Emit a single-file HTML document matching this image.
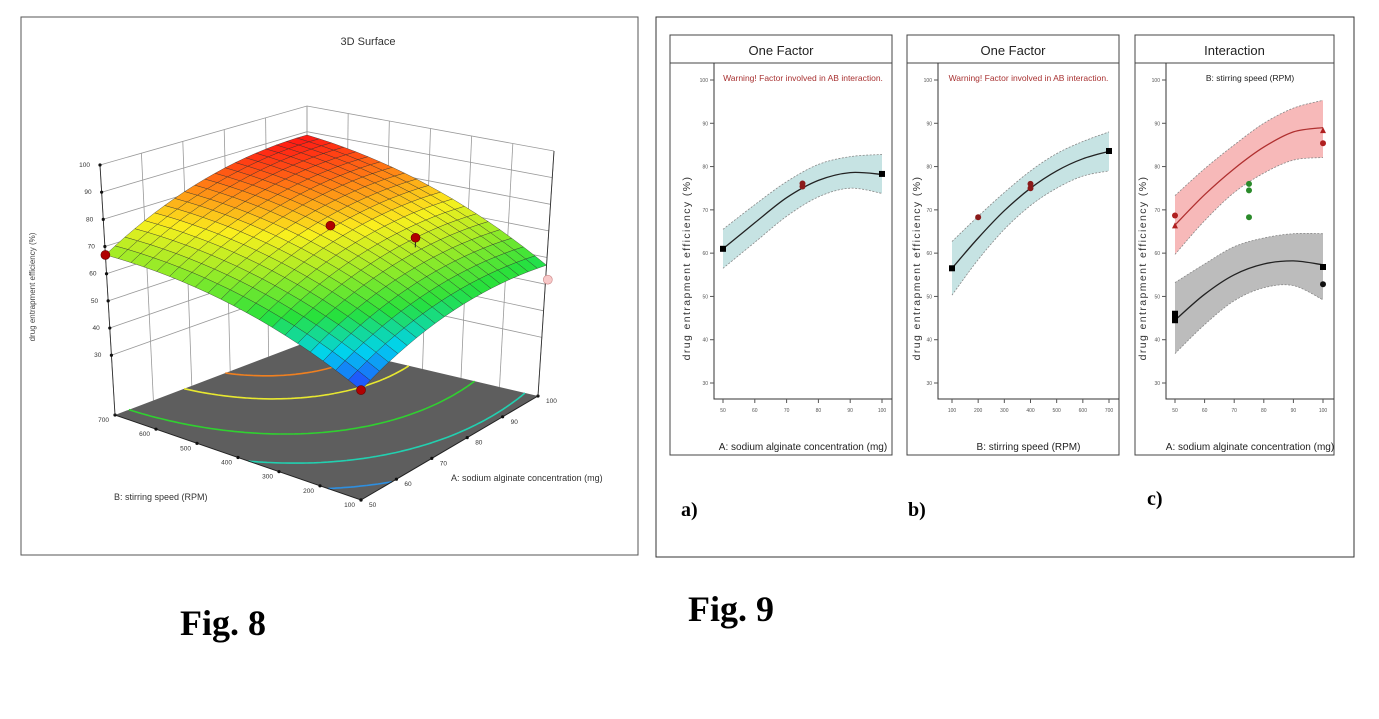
<!DOCTYPE html>
<html><head><meta charset="utf-8"><style>
html,body{margin:0;padding:0;background:#fff;}
svg{display:block;font-family:"Liberation Sans",sans-serif;}
</style></head><body>
<svg id="root" width="1379" height="719" viewBox="0 0 1379 719" xmlns="http://www.w3.org/2000/svg">
<rect x="21" y="17" width="617" height="538" fill="#fff" stroke="#555" stroke-width="1"/>
<text x="368" y="45" font-size="11" text-anchor="middle" fill="#333">3D Surface</text>
<text transform="translate(35,287) rotate(-90)" font-size="8" text-anchor="middle" fill="#444">drug entrapment efficiency (%)</text>
<text x="451" y="481" font-size="9" fill="#333">A: sodium alginate concentration (mg)</text>
<text x="114" y="500" font-size="9" fill="#333">B: stirring speed (RPM)</text>
<g id="g3d"></g>
<rect x="656" y="17" width="698" height="540" fill="#fff" stroke="#333" stroke-width="1"/>
<g id="g2d"></g>
<text x="681" y="516" font-size="20" font-weight="bold" font-family="Liberation Serif,serif">a)</text>
<text x="908" y="516" font-size="20" font-weight="bold" font-family="Liberation Serif,serif">b)</text>
<text x="1147" y="505" font-size="20" font-weight="bold" font-family="Liberation Serif,serif">c)</text>
<text x="180" y="635" font-size="36" font-weight="bold" font-family="Liberation Serif,serif">Fig. 8</text>
<text x="688" y="621" font-size="36" font-weight="bold" font-family="Liberation Serif,serif">Fig. 9</text>
</svg>
<script>
// ---------- 3D surface data ----------
const modelCoef = [75.3, 8.6, 13.5, 2.3, -5.7, -5.3]; // c0, A, B, AB, A^2, B^2 (coded)
const aTicks = [50, 60, 70, 80, 90, 100];
const bTicks = [100, 200, 300, 400, 500, 600, 700];
const zTicks = [30, 40, 50, 60, 70, 80, 90, 100];
const contourLevels = [50, 60, 70, 80, 85];
const contourColors = ['#2e8fe0', '#22d0b0', '#30d030', '#e8e830', '#f08020'];
const designA = [50, 75, 50, 82, 100];
const designB = [700, 400, 100, 260, 100];
const designZ = [66.9, 76.5, 44.5, 73, 52.8];

// ---------- 2D panel data ----------
const aX = [50, 60, 70, 80, 90, 100];
const aY = [61, 67, 72.8, 76.8, 78.6, 78.2];
const aLo = [56.5, 62.5, 68.5, 73, 75, 73.8];
const aHi = [65.5, 71.2, 76.5, 80.5, 82.3, 82.8];
const aPtsX = [50, 75, 75, 100];
const aPtsY = [61, 75.4, 76.1, 78.3];
const bX = [100, 200, 300, 400, 500, 600, 700];
const bY = [56.5, 63.5, 69.8, 75, 79, 81.8, 83.5];
const bLo = [50.3, 58.5, 65.5, 71, 75, 77.8, 79];
const bHi = [62.7, 68.5, 74, 79, 83, 85.8, 88];
const bPtsX = [100, 200, 400, 400, 700];
const bPtsY = [56.5, 68.3, 75, 76, 83.6];
const cX = [50, 60, 70, 80, 90, 100];
const cRedY = [66.5, 73.5, 79.5, 84.5, 88, 89];
const cRedLo = [59.7, 67.5, 74, 78.5, 81.5, 82.1];
const cRedHi = [73.3, 79.5, 85, 90, 93.5, 95.3];
const cBlkY = [44.5, 50.5, 55, 57.5, 58.2, 57.3];
const cBlkLo = [36.8, 43.5, 49, 52, 52.5, 49.2];
const cBlkHi = [53.2, 57.5, 61.5, 63.5, 64.5, 64.5];
const cBlkPtsX = [50, 50, 50, 100, 100];
const cBlkPtsY = [44.5, 45.3, 46, 56.8, 52.8];
const cRedPtsX = [50, 50, 100, 100];
const cRedPtsY = [68.7, 66.3, 85.4, 88.3];
const cGrnPtsX = [75, 75, 75];
const cGrnPtsY = [74.5, 76, 68.3];
const yTicks2d = [30, 40, 50, 60, 70, 80, 90, 100];

const NS = 'http://www.w3.org/2000/svg';
function mk(parent, tag, attrs) {
  const e = document.createElementNS(NS, tag);
  for (const k in attrs) e.setAttribute(k, attrs[k]);
  parent.appendChild(e);
  return e;
}

// ---------- 3D projection ----------
const zf = 8;
const F = [361, 500], R = [538, 396], L = [115, 415], Bk = [307, 342];
const Ft = [361, 223], Rt = [554, 151], Lt = [100, 165], Bkt = [307, 106];
function bil(p0, p1, p2, p3, u, v) {
  return [p0[0] * (1 - u) * (1 - v) + p1[0] * u * (1 - v) + p2[0] * (1 - u) * v + p3[0] * u * v,
          p0[1] * (1 - u) * (1 - v) + p1[1] * u * (1 - v) + p2[1] * (1 - u) * v + p3[1] * u * v];
}
function proj(a, b, z) {
  const u = (a - 50) / 50, v = (b - 100) / 600, w = (z - zf) / (100 - zf);
  const p = bil(F, R, L, Bk, u, v), q = bil(Ft, Rt, Lt, Bkt, u, v);
  return [p[0] + (q[0] - p[0]) * w, p[1] + (q[1] - p[1]) * w];
}
function model(a, b) {
  const x = (a - 75) / 25, y = (b - 400) / 300, c = modelCoef;
  return c[0] + c[1] * x + c[2] * y + c[3] * x * y + c[4] * x * x + c[5] * y * y;
}
function cmap(t) {
  const st = [[0, [40, 50, 255]], [0.17, [0, 210, 240]], [0.33, [40, 225, 60]], [0.5, [150, 235, 40]], [0.68, [250, 240, 30]], [0.85, [255, 130, 20]], [1, [255, 20, 20]]];
  t = Math.max(0, Math.min(1, t));
  for (let i = 0; i < st.length - 1; i++) {
    if (t <= st[i + 1][0]) {
      const f = (t - st[i][0]) / (st[i + 1][0] - st[i][0]);
      const c = st[i][1].map((v, k) => Math.round(v + (st[i + 1][1][k] - v) * f));
      return 'rgb(' + c.join(',') + ')';
    }
  }
}
const g3 = document.getElementById('g3d');
const P = (p) => p[0].toFixed(1) + ',' + p[1].toFixed(1);

// back walls
const wallB = mk(g3, 'g', {stroke: '#999', 'stroke-width': 0.8, fill: 'none'});


aTicks.forEach(a => { mk(wallB, 'line', {x1: proj(a, 700, zf)[0], y1: proj(a, 700, zf)[1], x2: proj(a, 700, 100)[0], y2: proj(a, 700, 100)[1]}); });
bTicks.forEach(b => { mk(wallB, 'line', {x1: proj(100, b, zf)[0], y1: proj(100, b, zf)[1], x2: proj(100, b, 100)[0], y2: proj(100, b, 100)[1]}); });
zTicks.forEach(z => {
  mk(wallB, 'polyline', {points: P(proj(50, 700, z)) + ' ' + P(proj(100, 700, z)) + ' ' + P(proj(100, 100, z))});
});
// floor
const floor = mk(g3, 'polygon', {points: [proj(50, 100, zf), proj(100, 100, zf), proj(100, 700, zf), proj(50, 700, zf)].map(P).join(' '), fill: '#5e5e5e'});


// contours
const M = 60;
contourLevels.forEach((lev, li) => {
  let d = '';
  for (let i = 0; i < M; i++) for (let j = 0; j < M; j++) {
    const a0 = 50 + 50 * i / M, a1 = 50 + 50 * (i + 1) / M, b0 = 100 + 600 * j / M, b1 = 100 + 600 * (j + 1) / M;
    const c = [[a0, b0], [a1, b0], [a1, b1], [a0, b1]];
    const vals = c.map(p => model(p[0], p[1]) - lev);
    const pts = [];
    for (let k = 0; k < 4; k++) {
      const k2 = (k + 1) % 4;
      if ((vals[k] < 0) !== (vals[k2] < 0)) {
        const t = vals[k] / (vals[k] - vals[k2]);
        pts.push([c[k][0] + (c[k2][0] - c[k][0]) * t, c[k][1] + (c[k2][1] - c[k][1]) * t]);
      }
    }
    for (let k = 0; k + 1 < pts.length; k += 2) {
      d += 'M' + P(proj(pts[k][0], pts[k][1], zf)) + 'L' + P(proj(pts[k + 1][0], pts[k + 1][1], zf));
    }
  }
  const cp = mk(g3, 'path', {d: d, stroke: contourColors[li], 'stroke-width': 1.6, fill: 'none'});
  
  
});
// floor edges & ticks
const fe = mk(g3, 'polyline', {points: P(proj(50, 700, zf)) + ' ' + P(proj(50, 100, zf)) + ' ' + P(proj(100, 100, zf)), stroke: '#222', fill: 'none', 'stroke-width': 1});


aTicks.forEach(a => {
  const p = proj(a, 100, zf);
  const dt = mk(g3, 'circle', {cx: p[0], cy: p[1], r: 1.6, fill: '#111'});
  
  
  const t = mk(g3, 'text', {x: p[0] + 8, y: p[1] + 7, 'font-size': 6.5, fill: '#333'});
  t.textContent = a;
  
  
});
bTicks.forEach(b => {
  const p = proj(50, b, zf);
  const dt = mk(g3, 'circle', {cx: p[0], cy: p[1], r: 1.6, fill: '#111'});
  
  
  const t = mk(g3, 'text', {x: p[0] - 6, y: p[1] + 7, 'font-size': 6.5, fill: '#333', 'text-anchor': 'end'});
  t.textContent = b;
  
  
});
// vertical edges
const ve = mk(g3, 'g', {stroke: '#333', 'stroke-width': 0.9});


[[50, 700], [100, 100]].forEach(c => { mk(ve, 'line', {x1: proj(c[0], c[1], zf)[0], y1: proj(c[0], c[1], zf)[1], x2: proj(c[0], c[1], 100)[0], y2: proj(c[0], c[1], 100)[1]}); });
zTicks.forEach(z => {
  const p = proj(50, 700, z);
  const dt = mk(g3, 'circle', {cx: p[0], cy: p[1], r: 1.6, fill: '#111'});
  
  
  const t = mk(g3, 'text', {x: p[0] - 10, y: p[1] + 2, 'font-size': 6.5, fill: '#333', 'text-anchor': 'end'});
  t.textContent = z;
  
  
});
// design point below surface (pink)
const pk = proj(designA[4], designB[4], model(designA[4], designB[4]) - 4.3);
// surface
const N = 20, zmin = model(50, 100), zmax = 89;
const quads = [];
for (let i = 0; i < N; i++) for (let j = 0; j < N; j++) quads.push([i, j]);
quads.sort((p, q) => (q[0] + q[1]) - (p[0] + p[1]));
const surf = mk(g3, 'g', {stroke: '#2a2a2a', 'stroke-width': 0.45, 'stroke-opacity': 0.8});


quads.forEach(([i, j]) => {
  const a0 = 50 + 50 * i / N, a1 = 50 + 50 * (i + 1) / N, b0 = 100 + 600 * j / N, b1 = 100 + 600 * (j + 1) / N;
  const pts = [[a0, b0], [a1, b0], [a1, b1], [a0, b1]].map(p => proj(p[0], p[1], model(p[0], p[1])));
  const zc = model((a0 + a1) / 2, (b0 + b1) / 2);
  const q = mk(surf, 'polygon', {points: pts.map(P).join(' '), fill: cmap((zc - zmin) / (zmax - zmin))});
  
  
});
const pkc = mk(g3, 'circle', {cx: pk[0] + 2, cy: pk[1] + 3, r: 4.5, fill: '#f8c8c8', stroke: '#c88', 'stroke-width': 0.6});


for (let k = 0; k < 4; k++) {
  const p = proj(designA[k], designB[k], designZ[k]);
  const s = proj(designA[k], designB[k], model(designA[k], designB[k]));
  if (Math.abs(s[1] - p[1]) > 2) {
    const st = mk(g3, 'line', {x1: p[0], y1: p[1], x2: s[0], y2: s[1], stroke: '#222', 'stroke-width': 1});
    
    
  }
  const c = mk(g3, 'circle', {cx: p[0], cy: p[1], r: 4.5, fill: '#b00000', stroke: '#600', 'stroke-width': 0.6});
  
  
}

// ---------- 2D panels ----------
const g2 = document.getElementById('g2d');
function spline(pts) {
  let d = 'M' + P(pts[0]);
  for (let i = 0; i < pts.length - 1; i++) {
    const p0 = pts[Math.max(0, i - 1)], p1 = pts[i], p2 = pts[i + 1], p3 = pts[Math.min(pts.length - 1, i + 2)];
    const c1 = [p1[0] + (p2[0] - p0[0]) / 6, p1[1] + (p2[1] - p0[1]) / 6];
    const c2 = [p2[0] - (p3[0] - p1[0]) / 6, p2[1] - (p3[1] - p1[1]) / 6];
    d += 'C' + P(c1) + ' ' + P(c2) + ' ' + P(p2);
  }
  return d;
}
function panel(cfg) {
  const g = mk(g2, 'g', {});
  
  
  const top = 63, bottom = 399;
  const ys = v => 80 + (100 - v) * (383 - 80) / 70;
  const xs = v => cfg.x0 + (v - cfg.d0) * (cfg.x1 - cfg.x0) / (cfg.d1 - cfg.d0);
  const box = mk(g, 'rect', {x: cfg.bl, y: 35, width: cfg.br - cfg.bl, height: 420, fill: '#fff', stroke: '#444', 'stroke-width': 1});
  
  
  const sep = mk(g, 'line', {x1: cfg.bl, y1: top, x2: cfg.br, y2: top, stroke: '#444'});
  
  
  const tt = mk(g, 'text', {x: (cfg.bl + cfg.br) / 2, y: 55, 'font-size': 13, 'text-anchor': 'middle', fill: '#222'});
  tt.textContent = cfg.title;
  
  
  const ax = mk(g, 'polyline', {points: cfg.pl + ',' + top + ' ' + cfg.pl + ',' + bottom + ' ' + cfg.br + ',' + bottom, fill: 'none', stroke: '#333', 'stroke-width': 1});
  
  
  yTicks2d.forEach(v => {
    const tk = mk(g, 'line', {x1: cfg.pl - 4, x2: cfg.pl, y1: ys(v), y2: ys(v), stroke: '#555'});
    
    
    const tl = mk(g, 'text', {x: cfg.pl - 6, y: ys(v) + 2, 'font-size': 5, 'text-anchor': 'end', fill: '#555'});
    tl.textContent = v;
    
    
  });
  cfg.xt.forEach(v => {
    const tk = mk(g, 'line', {x1: xs(v), x2: xs(v), y1: bottom, y2: bottom + 4, stroke: '#555'});
    
    
    const tl = mk(g, 'text', {x: xs(v), y: bottom + 13, 'font-size': 5, 'text-anchor': 'middle', fill: '#555'});
    tl.textContent = v;
    
    
  });
  const yt = mk(g, 'text', {transform: 'translate(' + cfg.ytx + ',268) rotate(-90)', 'font-size': 10.5, 'letter-spacing': 1.4, 'text-anchor': 'middle', fill: '#333'});
  yt.textContent = 'drug entrapment efficiency (%)';
  
  
  const xt = mk(g, 'text', {x: (cfg.pl + cfg.br) / 2, y: 450, 'font-size': 10, 'text-anchor': 'middle', fill: '#222'});
  xt.textContent = cfg.xtitle;
  
  
  const nt = mk(g, 'text', {x: (cfg.pl + cfg.br) / 2, y: 81, 'font-size': 8.5, 'text-anchor': 'middle', fill: cfg.noteColor});
  nt.textContent = cfg.note;
  
  
  cfg.series.forEach(s => {
    const up = s.x.map((v, i) => [xs(v), ys(s.hi[i])]);
    const lo = s.x.map((v, i) => [xs(v), ys(s.lo[i])]);
    const band = mk(g, 'path', {d: spline(up) + 'L' + spline(lo.slice().reverse()).slice(1) + 'Z', fill: s.fill, stroke: 'none'});
    
    
    const bu = mk(g, 'path', {d: spline(up), fill: 'none', stroke: '#888', 'stroke-dasharray': '2,1.5', 'stroke-width': 0.8});
    
    
    const bl = mk(g, 'path', {d: spline(lo), fill: 'none', stroke: '#888', 'stroke-dasharray': '2,1.5', 'stroke-width': 0.8});
    
    
    const ln = mk(g, 'path', {d: spline(s.x.map((v, i) => [xs(v), ys(s.y[i])])), fill: 'none', stroke: s.line, 'stroke-width': 1.3});
    
    
  });
  cfg.pts.forEach(p => {
    p.x.forEach((v, i) => {
      let e;
      if (p.shape === 'sq') e = mk(g, 'rect', {x: xs(v) - 3, y: ys(p.y[i]) - 3, width: 6, height: 6, fill: p.c});
      else if (p.shape === 'tri') e = mk(g, 'polygon', {points: [xs(v), ys(p.y[i]) - 3.5, xs(v) - 3, ys(p.y[i]) + 2.5, xs(v) + 3, ys(p.y[i]) + 2.5].join(' '), fill: p.c});
      else e = mk(g, 'circle', {cx: xs(v), cy: ys(p.y[i]), r: 3, fill: p.c});
      
      
    });
  });
}
panel({name: 'panel-a', title: 'One Factor', bl: 670, br: 892, pl: 714, x0: 723, x1: 882, d0: 50, d1: 100, xt: [50, 60, 70, 80, 90, 100], ytx: 690,
  xtitle: 'A: sodium alginate concentration (mg)', note: 'Warning! Factor involved in AB interaction.', noteColor: '#a83232',
  series: [{x: aX, y: aY, lo: aLo, hi: aHi, fill: '#c6e3e3', line: '#222'}],
  pts: [{x: [aPtsX[0], aPtsX[3]], y: [aPtsY[0], aPtsY[3]], shape: 'sq', c: '#000'}, {x: [aPtsX[1], aPtsX[2]], y: [aPtsY[1], aPtsY[2]], shape: 'dot', c: '#8b1a1a'}]});
panel({name: 'panel-b', title: 'One Factor', bl: 907, br: 1119, pl: 938, x0: 952, x1: 1109, d0: 100, d1: 700, xt: [100, 200, 300, 400, 500, 600, 700], ytx: 920,
  xtitle: 'B: stirring speed (RPM)', note: 'Warning! Factor involved in AB interaction.', noteColor: '#a83232',
  series: [{x: bX, y: bY, lo: bLo, hi: bHi, fill: '#c6e3e3', line: '#222'}],
  pts: [{x: [bPtsX[0], bPtsX[4]], y: [bPtsY[0], bPtsY[4]], shape: 'sq', c: '#000'}, {x: bPtsX.slice(1, 4), y: bPtsY.slice(1, 4), shape: 'dot', c: '#8b1a1a'}]});
panel({name: 'panel-c', title: 'Interaction', bl: 1135, br: 1334, pl: 1166, x0: 1175, x1: 1323, d0: 50, d1: 100, xt: [50, 60, 70, 80, 90, 100], ytx: 1146,
  xtitle: 'A: sodium alginate concentration (mg)', note: 'B: stirring speed (RPM)', noteColor: '#222',
  series: [{x: cX, y: cRedY, lo: cRedLo, hi: cRedHi, fill: '#f7b9b9', line: '#b03030'}, {x: cX, y: cBlkY, lo: cBlkLo, hi: cBlkHi, fill: '#bcbcbc', line: '#222'}],
  pts: [{x: cBlkPtsX.slice(0, 4), y: cBlkPtsY.slice(0, 4), shape: 'sq', c: '#000'}, {x: cBlkPtsX.slice(4), y: cBlkPtsY.slice(4), shape: 'dot', c: '#111'},
        {x: [cRedPtsX[0], cRedPtsX[2]], y: [cRedPtsY[0], cRedPtsY[2]], shape: 'dot', c: '#b02020'}, {x: [cRedPtsX[1], cRedPtsX[3]], y: [cRedPtsY[1], cRedPtsY[3]], shape: 'tri', c: '#b02020'},
        {x: cGrnPtsX, y: cGrnPtsY, shape: 'dot', c: '#2a8a2a'}]});
</script>
</body></html>
